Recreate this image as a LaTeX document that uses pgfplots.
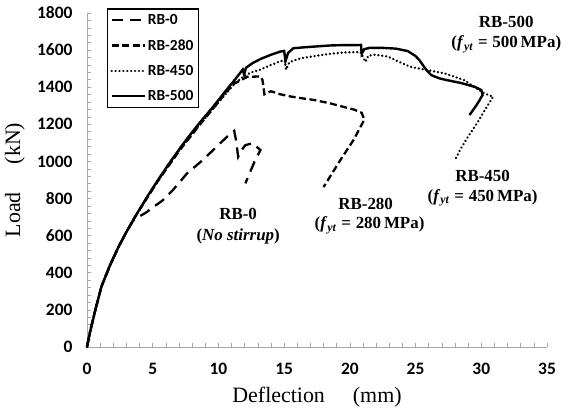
\documentclass[border=0pt]{standalone}
\usepackage{fontspec}
\setmainfont{Carlito}
\newfontfamily\labelfont{Liberation Serif}
\usepackage{pgfplots}
\pgfplotsset{compat=1.18}

\begin{document}
\begin{tikzpicture}
\begin{axis}[
    at={(0,0)}, anchor=south west,
    scale only axis, width=460bp, height=334bp,
    xmin=0, xmax=35, ymin=0, ymax=1800,
    axis lines=left,
    axis line style={draw=gray!70, line width=0.8bp, -},
    xtick={0,5,...,35}, ytick={0,200,...,1800},
    minor x tick num=4, minor y tick num=4,
    tick align=inside,
    major tick length=4bp, minor tick length=4bp,
    tick style={draw=gray!70, line width=0.6bp},
    tick label style={font=\fontsize{17.5}{17.5}\selectfont\bfseries},
    xticklabel style={yshift=-13bp},
    yticklabel style={xshift=-11bp},
    /pgf/number format/assume math mode=true,
    /pgf/number format/1000 sep={},
    xlabel={Deflection\hspace{28bp}(mm)},
    ylabel={Load\hspace{28bp}(kN)},
    label style={font=\labelfont\fontsize{22}{22}\selectfont},
    x label style={at={(axis description cs:0.5,-0.15)}, anchor=center},
    y label style={at={(axis description cs:-0.157,0.5)}, anchor=center},
    clip=false,
    legend style={at={(0.043,1.014)}, anchor=north west, draw=black,
        line width=1.2bp, font=\fontsize{15.5}{15.5}\selectfont\bfseries,
        cells={anchor=west}, inner xsep=3bp, inner ysep=3.5bp, row sep=9.5bp},
    legend image code/.code={\draw[#1] (0bp,0bp) -- (33bp,0bp);},
]
\addplot[black, line width=2.3bp, dash pattern=on 11bp off 7bp] coordinates {
(0,0) (0.2,70) (0.6,190) (1.1,326) (1.75,440) (2.4,540) (3,620) (3.5,680)
(3.9,700) (4.5,725) (5.0,752) (5.7,787) (6.45,839) (7.0,884) (7.6,935)
(8.6,995) (9.6,1061) (10.65,1133) (11.2,1165) (11.35,1110) (11.5,1025)
(11.8,1065) (12.05,1088) (12.6,1098) (13.2,1061) (12.8,1008) (12.05,882)
};
\addlegendentry{RB-0}
\addplot[black, line width=2.3bp, dash pattern=on 7bp off 3.5bp] coordinates {
(0,0) (0.2,70) (0.6,190) (1.1,326) (1.75,440) (2.4,540) (3,620) (3.65,700)
(4.5,795) (5.4,895) (6.2,975) (7.1,1065) (8,1145) (8.6,1200) (9.6,1285)
(10.65,1378) (11.2,1420) (11.9,1445) (12.2,1456) (13.2,1458) (13.35,1440)
(13.5,1362) (13.7,1370) (14.0,1378) (14.7,1362) (15.5,1350) (16.2,1342)
(17.3,1331) (18.5,1313) (19.3,1298) (20.3,1280) (20.9,1262) (21.1,1225)
(20.3,1118) (19.3,1010) (18.0,862)
};
\addlegendentry{RB-280}
\addplot[black, line width=2.5bp, line cap=round, dash pattern=on 0.1bp off 3.8bp] coordinates {
(0,0) (0.2,75) (0.6,195) (1.1,330) (1.75,445) (2.4,540) (3,620) (3.65,700)
(4.5,795) (5.4,895) (6.2,978) (7.1,1068) (8,1150) (8.6,1200) (9.6,1285)
(10.65,1372) (11.2,1415) (11.9,1458) (12.5,1480) (13.2,1495) (14,1520)
(14.7,1540) (15.05,1545) (15.15,1495) (15.4,1535) (16.2,1555) (17.5,1570)
(18.5,1580) (19.5,1587) (20.8,1590) (21.0,1562) (21.2,1537) (21.4,1570)
(21.9,1575) (22.9,1565) (23.8,1535) (24.6,1510) (25.9,1492) (27.2,1475)
(28.7,1438) (29.5,1400) (30.3,1365) (30.9,1349) (30.3,1280) (29.7,1208)
(29.0,1135) (28.4,1064) (28.0,1008)
};
\addlegendentry{RB-450}
\addplot[black, line width=2.4bp] coordinates {
(0,0) (0.2,70) (0.6,190) (1.1,326) (1.75,440) (2.4,540) (3,620) (3.65,701)
(4.5,801) (5.4,900) (6.2,984) (7.1,1074) (8,1158) (8.6,1211) (9.6,1295)
(10.65,1389) (11.2,1436) (11.85,1495) (11.95,1470) (12.1,1505) (12.6,1530)
(13.2,1552) (14,1575) (14.7,1592) (15.0,1596) (15.1,1540) (15.3,1585)
(15.7,1610) (16.5,1615) (17.5,1620) (18.5,1625) (19.5,1627) (20.5,1627)
(20.85,1628) (20.9,1580) (21.1,1605) (21.5,1612) (22.5,1612) (23.5,1608)
(24.4,1595) (25.0,1568) (25.3,1545) (25.8,1495) (26.2,1465) (26.8,1448)
(27.4,1438) (28.5,1422) (29.5,1402) (30.0,1385) (30.1,1358) (29.7,1310)
(29.1,1250)
};
\addlegendentry{RB-500}
\begin{scope}[every node/.style={font=\labelfont\fontsize{17}{17}\selectfont\bfseries, inner sep=0pt, anchor=center}]
\node at (axis cs:31.9,1752) {RB-500};
\node at (axis cs:31.9,1630) {(\textit{f}\textsubscript{\textit{yt}}\;=\;500\,MPa)};
\node at (axis cs:30.1,920) {RB-450};
\node at (axis cs:30.1,805) {(\textit{f}\textsubscript{\textit{yt}}\;=\;450\,MPa)};
\node at (axis cs:21.2,770) {RB-280};
\node at (axis cs:21.5,655) {(\textit{f}\textsubscript{\textit{yt}}\;=\;280\,MPa)};
\node at (axis cs:11.5,715) {RB-0};
\node at (axis cs:11.5,597) {(\textit{No stirrup})};
\end{scope}
\end{axis}
\path[use as bounding box] (-87bp,-70bp) rectangle (483bp,347bp);
\end{tikzpicture}
\end{document}
